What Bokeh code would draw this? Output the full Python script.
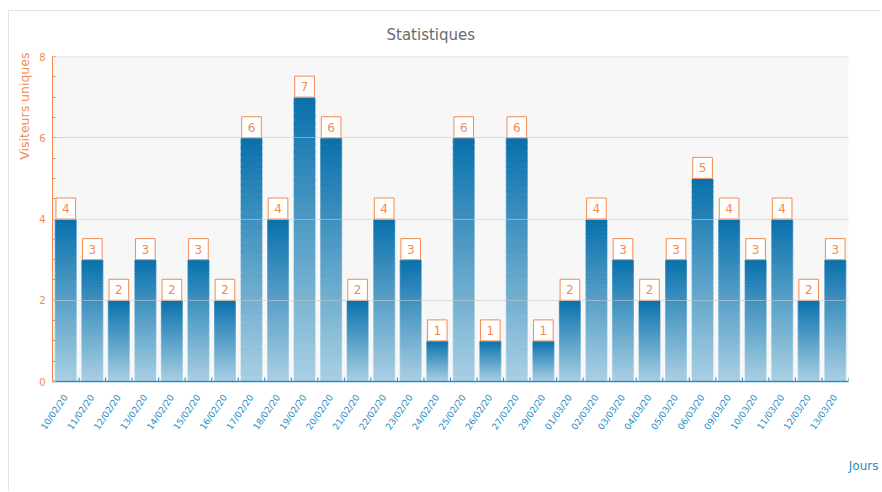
from bokeh.plotting import figure
from bokeh.models import (ColumnDataSource, Range1d, SingleIntervalTicker,
                          FactorRange, Title, Span)
from bokeh.transform import dodge
from bokeh.core.properties import value
from bokeh.embed import file_html
from bokeh.resources import INLINE

days = ["10/02/20", "11/02/20", "12/02/20", "13/02/20", "14/02/20", "15/02/20",
        "16/02/20", "17/02/20", "18/02/20", "19/02/20", "20/02/20", "21/02/20",
        "22/02/20", "23/02/20", "24/02/20", "25/02/20", "26/02/20", "27/02/20",
        "29/02/20", "01/03/20", "02/03/20", "03/03/20", "04/03/20", "05/03/20",
        "06/03/20", "09/03/20", "10/03/20", "11/03/20", "12/03/20", "13/03/20"]
visitors = [4, 3, 2, 3, 2, 3, 2, 6, 4, 7, 6, 2, 4, 3, 1, 6, 1, 6,
            1, 2, 4, 3, 2, 3, 5, 4, 3, 4, 2, 3]
Y_MAX = 8

ORANGE = "#f28a50"
BLUE = "#2a8cc4"
TOP_RGB = (8, 112, 172)
BOT_RGB = (170, 208, 227)
NSEG = 40
BAR_W = 0.83

def mix(t):
    r = [round(BOT_RGB[i] + (TOP_RGB[i] - BOT_RGB[i]) * t) for i in range(3)]
    return "#%02x%02x%02x" % tuple(r)

p = figure(width=873, height=481, x_range=FactorRange(*days), y_range=Range1d(0, Y_MAX),
           output_backend="svg", toolbar_location=None,
           min_border_left=43, min_border_top=44, min_border_right=34, min_border_bottom=111,
           styles={"margin-left": "8px", "margin-top": "10px",
                   "border-left": "1px solid #e2e2e2", "border-top": "1px solid #e2e2e2"})

p.title.text = "Statistiques"
p.title.align = "left"
p.title.offset = 334
p.title.text_color = "#6a6a6a"
p.title.text_font = "DejaVu Sans"
p.title.text_font_size = "15px"
p.title.text_font_style = "normal"
p.title.standoff = 25

p.background_fill_color = "#f7f7f7"
p.border_fill_color = "white"
p.outline_line_color = None

# gradient bars built from segments
seg_x, seg_b, seg_t, seg_c = [], [], [], []
for d, v in zip(days, visitors):
    for k in range(NSEG):
        seg_x.append(d)
        seg_b.append(v * k / NSEG)
        seg_t.append(min(v, v * (k + 1.6) / NSEG))
        seg_c.append(mix((k + 0.5) / NSEG))
p.vbar(x=seg_x, bottom=seg_b, top=seg_t, width=BAR_W, fill_color=seg_c, line_color=None)

src = ColumnDataSource(dict(day=days, v=visitors, txt=[str(v) for v in visitors]))
p.vbar(x="day", top="v", width=BAR_W, source=src, fill_color=None,
       line_color="#ffffff", line_alpha=0.45, line_width=1)

p.add_layout(Span(location=Y_MAX, dimension="width", line_color="#dcdcdc", line_width=1.5))

# small tick marks between the days
p.rect(x=dodge("day", 0.5, range=p.x_range), y=0, width=1, height=8,
       width_units="screen", height_units="screen", source=src,
       fill_color=BLUE, line_color=None)

p.text(x="day", y="v", text="txt", source=src, text_align="center",
       text_baseline="bottom", y_offset=0, text_color=ORANGE,
       text_font=value("DejaVu Sans"), text_font_size="12px",
       background_fill_color="white", border_line_color=ORANGE,
       border_line_width=1, padding=[6, 6, 6, 6])

p.yaxis.ticker = SingleIntervalTicker(interval=2, num_minor_ticks=4)
p.yaxis.axis_line_color = ORANGE
p.yaxis.major_tick_line_color = ORANGE
p.yaxis.minor_tick_line_color = ORANGE
p.yaxis.major_tick_out = 0
p.yaxis.major_tick_in = 4
p.yaxis.minor_tick_out = 0
p.yaxis.minor_tick_in = 3
p.yaxis.major_label_text_color = ORANGE
p.yaxis.major_label_text_font = "DejaVu Sans"
p.yaxis.major_label_text_font_size = "10px"
p.yaxis.major_label_standoff = 7

p.xaxis.axis_line_color = BLUE
p.xaxis.axis_line_width = 1.5
p.xaxis.major_tick_line_color = None
p.xaxis.major_label_orientation = 0.97
p.xaxis.major_label_text_color = BLUE
p.xaxis.major_label_text_font = "DejaVu Sans"
p.xaxis.major_label_text_font_size = "9px"
p.xaxis.major_label_standoff = 8

p.xgrid.grid_line_color = None
p.ygrid.grid_line_color = "#c8c8c8"
p.ygrid.grid_line_alpha = 0.6
p.ygrid.level = "guide"

p.add_layout(Title(text="Visiteurs uniques", align="right", text_color=ORANGE,
                   text_font="DejaVu Sans", text_font_size="12.5px",
                   text_font_style="normal", standoff=9, offset=-4), "left")
p.add_layout(Title(text="Jours", align="right", text_color=BLUE,
                   text_font="DejaVu Sans", text_font_size="12px",
                   text_font_style="normal", offset=-30, standoff=39), "below")

open("out.html", "w").write(file_html(p, INLINE))
